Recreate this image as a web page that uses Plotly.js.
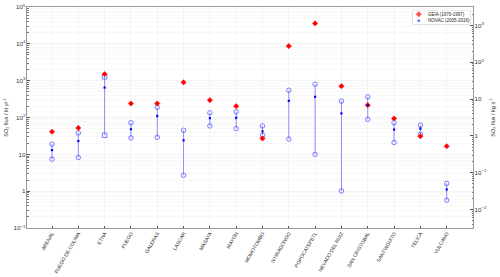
<!DOCTYPE html>
<html><head><meta charset="utf-8">
<script src="https://cdn.plot.ly/plotly-3.0.1.min.js"></script>
<style>html,body{margin:0;padding:0;background:#fff}#c{width:500px;height:277px}</style>
</head><body><div id="c"></div>
<script>
const volcanoes = ["ARENAL","FUEGO DE COLIMA","ETNA","FUEGO","GALERAS","LASCAR","MASAYA","MAYON","MOMOTOMBO","NYIRAGONGO","POPOCATEPETL","NEVADO DEL RUIZ","SAN CRISTOBAL","SANTIAGUITO","TELICA","VULCANO"];
const geia =      [41, 52, 1500, 240, 240, 900, 296, 203, 27, 8700, 35800, 710, 216, 94, 31, 16.6];
const novacMean = [13, 23, 650, 48, 109, 24, 96, 98, 42, 283, 364, 129, 216, 47, 50, 1.11];
const novacHigh = [18.9, 38, 1270, 72, 188, 45, 134, 142, 59, 550, 800, 278, 364, 72, 62, 1.62];
const novacLow =  [7.4, 8.2, 33, 28, 29, 2.7, 59, 50, 33, 26, 10, 1.02, 89, 21, 35, 0.57];
const rangeSymbol = ["circle-open","circle-open","square-open","circle-open","circle-open","circle-open","circle-open","circle-open","circle-open","circle-open","circle-open","circle-open","circle-open","circle-open","circle-open","circle-open"];
const legendNames = ["GEIA (1970-1997)", "NOVAC (2005-2016)"];
const KT_PER_KGS = 31.536;

const xs = volcanoes.map((v,i)=>i+1);
const lx=[], ly=[], ls=[];
xs.forEach((x,i)=>{ lx.push(x,x,null); ly.push(novacLow[i],novacHigh[i],null); ls.push(rangeSymbol[i],rangeSymbol[i],rangeSymbol[i]); });

const traces = [
  {x:lx, y:ly, mode:'lines+markers', line:{color:'#8c8cff', width:1},
   marker:{symbol:ls, size:4.5, color:'#6b6bff', line:{width:0.9, color:'#6b6bff'}},
   showlegend:false, hoverinfo:'skip'},
  {x:xs, y:geia, mode:'markers', name:legendNames[0], showlegend:false,
   marker:{symbol:'diamond', size:4, color:'#ff0000', line:{width:0.6,color:'#ff0000'}}},
  {x:xs, y:novacMean, mode:'markers', name:legendNames[1], showlegend:false,
   marker:{symbol:'square', size:2.2, color:'#0000ee'}},
  {x:xs, y:geia.map(v=>v/KT_PER_KGS), yaxis:'y2', mode:'markers',
   marker:{opacity:0}, showlegend:false, hoverinfo:'skip'},
  {x:[0.1,0.1], y:[0.75,0.25], xaxis:'x2', yaxis:'y3', mode:'markers', showlegend:false, hoverinfo:'skip',
   marker:{symbol:['diamond','square'], size:[4,2.2], color:['#ff0000','#0000ee'], line:{width:[0.6,0],color:'#ff0000'}}}
];

const tf = {family:'Liberation Sans, Arial, sans-serif', size:5, color:'#333'};
const L = {x0:(413-27)/446, x1:(470-27)/446, y0:(228-24)/221, y1:(228-11)/221};
const layout = {
  width:500, height:277,
  margin:{l:27, r:27, t:7, b:49},
  paper_bgcolor:'#fff', plot_bgcolor:'#fff',
  showlegend:false,
  xaxis:{range:[0.05,17], tickvals:xs, ticktext:volcanoes, tickangle:-60,
    tickfont:tf, showgrid:true, gridcolor:'#ebebeb', gridwidth:0.5,
    showline:true, linecolor:'#555', linewidth:0.6, mirror:true,
    ticks:'inside', ticklen:2, tickcolor:'#555', zeroline:false},
  yaxis:{type:'log', range:[-1,5], dtick:1, exponentformat:'power', tickfont:tf,
    showgrid:true, gridcolor:'#e6e6e6', gridwidth:0.5,
    minor:{showgrid:true, gridcolor:'#f2f2f2', gridwidth:0.5, ticks:'inside', ticklen:1.5, tickcolor:'#777'},
    showline:true, linecolor:'#555', linewidth:0.6,
    ticks:'inside', ticklen:3, tickcolor:'#555', zeroline:false,
    title:{text:'SO<sub>2</sub> flux / kt yr<sup>-1</sup>', font:{family:tf.family, size:5.5, color:'#333'}, standoff:4}},
  yaxis2:{type:'log', overlaying:'y', side:'right',
    range:[-1-Math.log10(KT_PER_KGS), 5-Math.log10(KT_PER_KGS)], dtick:1, exponentformat:'power',
    tickfont:tf, showgrid:false,
    minor:{ticks:'inside', ticklen:1.5, tickcolor:'#777'},
    showline:true, linecolor:'#555', linewidth:0.6,
    ticks:'inside', ticklen:3, tickcolor:'#555', zeroline:false,
    title:{text:'SO<sub>2</sub> flux / kg s<sup>-1</sup>', font:{family:tf.family, size:5.5, color:'#333'}, standoff:4}},
  xaxis2:{domain:[L.x0, L.x1], range:[0,1], anchor:'y3', visible:false, fixedrange:true},
  yaxis3:{domain:[L.y0, L.y1], range:[0,1], anchor:'x2', visible:false, fixedrange:true},
  shapes:[{type:'rect', xref:'paper', yref:'paper', x0:L.x0, x1:L.x1, y0:L.y0, y1:L.y1,
    fillcolor:'#fff', line:{color:'#999', width:0.6}, layer:'below'}],
  annotations: legendNames.map((t,i)=>({xref:'x2', yref:'y3', x:0.23, y:i===0?0.75:0.25,
    xanchor:'left', yanchor:'middle', showarrow:false, text:t,
    font:{family:tf.family, size:4.5, color:'#222'}}))
};
Plotly.newPlot('c', traces, layout, {displayModeBar:false, staticPlot:true});
</script></body></html>
